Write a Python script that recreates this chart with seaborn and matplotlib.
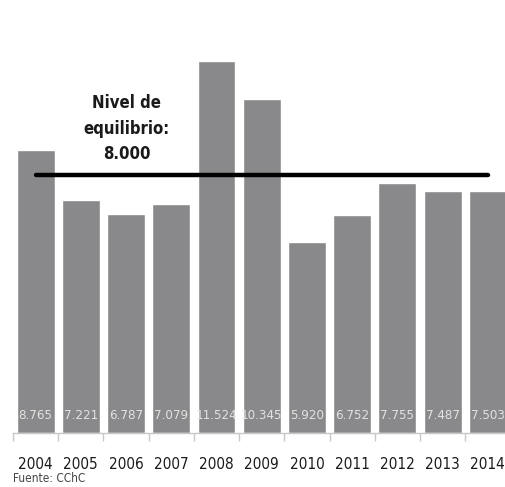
import numpy as np
import pandas as pd
import matplotlib
matplotlib.use("Agg")
import matplotlib.pyplot as plt
import seaborn as sns

years = ["2004", "2005", "2006", "2007", "2008", "2009", "2010", "2011", "2012", "2013", "2014"]
values = [8.765, 7.221, 6.787, 7.079, 11.524, 10.345, 5.920, 6.752, 7.755, 7.487, 7.503]
value_labels = ["8.765", "7.221", "6.787", "7.079", "11.524", "10.345", "5.920", "6.752", "7.755", "7.487", "7.503"]
equilibrium = 8.0
eq_label = "Nivel de\nequilibrio:\n8.000"
source = "Fuente: CChC"

sns.set_theme(style="white")
plt.rcParams["font.family"] = ["DejaVu Sans"]
plt.rcParams["font.stretch"] = "condensed"

df = pd.DataFrame({"year": years, "value": values})

fig = plt.figure(figsize=(5.05, 4.87), dpi=100)
ax = fig.add_axes([13 / 505, 54 / 487, 492 / 505, 372 / 487])
sns.barplot(data=df, x="year", y="value", color="#89898b", saturation=1,
            width=0.84, ax=ax)
ax.set_xlim(-0.5, 10.38)
ax.set_ylim(0, 11.524)

# equilibrium line from first to last bar centre
ax.plot([0, len(years) - 1], [equilibrium, equilibrium], color="black",
        lw=3.2, solid_capstyle="round", zorder=5)
ax.text(2.01, 8.35, eq_label, ha="center", va="bottom", fontsize=12,
        fontweight="bold", fontstretch="condensed", color="#1a1a1a",
        linespacing=1.55)

for i, lab in enumerate(value_labels):
    ax.text(i, 0.55, lab, ha="center", va="center", fontsize=9.5,
            fontstretch="condensed", color="#e2e2e2")

for side in ["top", "right", "left"]:
    ax.spines[side].set_visible(False)
ax.spines["bottom"].set_color("#c8c8c8")
ax.spines["bottom"].set_linewidth(1)
ax.set_yticks([])
ax.set_xlabel("")
ax.set_ylabel("")
ax.set_xticks(range(len(years)))
ax.set_xticklabels(years, fontsize=11, color="#1a1a1a", fontstretch="condensed")
ax.tick_params(axis="x", which="major", length=0, pad=17)
ax.set_xticks(np.arange(-0.5, len(years) - 0.5, 1), minor=True)
ax.tick_params(axis="x", which="minor", length=6, width=1, color="#c8c8c8",
               direction="out", bottom=True)

fig.text(13 / 505, 1 - 479 / 487, source, fontsize=8.5, color="#444444",
         ha="left", va="center", fontstretch="condensed")

fig.savefig("out.png", dpi=100)
